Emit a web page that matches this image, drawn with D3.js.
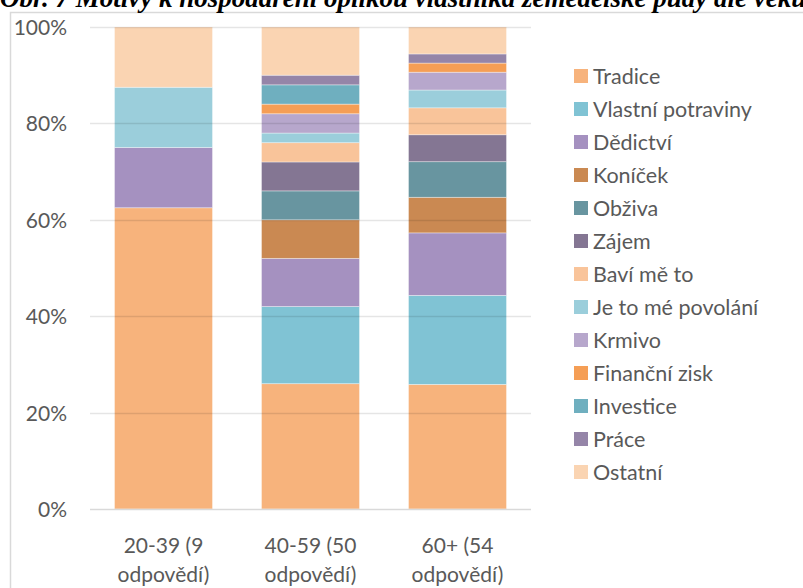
<!DOCTYPE html>
<html><head><meta charset="utf-8">
<script src="https://cdn.jsdelivr.net/npm/d3@7"></script>
<style>
html,body{margin:0;padding:0;background:#fff;overflow:hidden;}
svg{display:block;}
</style></head>
<body>
<svg id="c" width="803" height="588"></svg>
<script>
const titleText = "Obr. 7 Motivy k hospodaření opilkou vlastníka zemědělské půdy dle věku";
const categories = ["20-39 (9 odpovědí)", "40-59 (50 odpovědí)", "60+ (54 odpovědí)"];
const categoryLines = [["20-39 (9", "odpovědí)"], ["40-59 (50", "odpovědí)"], ["60+ (54", "odpovědí)"]];
const seriesNames = ["Tradice","Vlastní potraviny","Dědictví","Koníček","Obživa","Zájem","Baví mě to","Je to mé povolání","Krmivo","Finanční zisk","Investice","Práce","Ostatní"];
const seriesColors = ["#F7B37C","#80C3D4","#A591C0","#CA8952","#6895A0","#847693","#F9C49A","#9BCEDB","#B7A7CC","#F59E55","#6FAFBF","#9585A8","#FAD4B2"];
const tradice      = [62.5, 26, 25.9];
const vlastni      = [0, 16, 18.5];
const dedictvi     = [12.5, 10, 13.0];
const konicek      = [0, 8, 7.4];
const obziva       = [0, 6, 7.4];
const zajem        = [0, 6, 5.6];
const bavi         = [0, 4, 5.6];
const povolani     = [12.5, 2, 3.7];
const krmivo       = [0, 4, 3.7];
const financni     = [0, 2, 1.9];
const investice    = [0, 4, 0];
const prace        = [0, 2, 1.9];
const ostatni      = [12.5, 10, 5.6];
const seriesValues = [tradice, vlastni, dedictvi, konicek, obziva, zajem, bavi, povolani, krmivo, financni, investice, prace, ostatni];
const yTicks = [0, 0.2, 0.4, 0.6, 0.8, 1.0];

const rows = categories.map((c, i) => {
  const r = {cat: c};
  seriesNames.forEach((s, j) => r[s] = seriesValues[j][i]);
  return r;
});

const svg = d3.select("#c");
const FONT = "Lato, 'Open Sans', sans-serif";
const TXT = "#595959";

// chart border
svg.append("rect").attr("x", 10.5).attr("y", 12.5).attr("width", 1000).attr("height", 1000)
  .attr("fill", "none").attr("stroke", "#d9d9d9").attr("stroke-width", 1.5);

// title (clipped at top, as in the reference)
svg.append("text").attr("x", 0).attr("y", 7)
  .attr("font-family", "'Liberation Serif', 'Times New Roman', serif")
  .attr("font-weight", "bold").attr("font-style", "italic")
  .attr("font-size", 27).attr("fill", "#000").text(titleText);

const x = d3.scaleBand().domain(categories).range([90, 531]).paddingInner(1/3).paddingOuter(1/6);
const y = d3.scaleLinear().domain([0, 1]).range([509, 27]);

const stack = d3.stack().keys(seriesNames).offset(d3.stackOffsetExpand);
const stacked = stack(rows);

// bars
const g = svg.append("g");
g.selectAll("g.s").data(stacked).join("g").attr("class", "s")
  .attr("fill", (d, i) => seriesColors[i])
  .selectAll("rect").data(d => d.filter(p => p[1] - p[0] > 0)).join("rect")
  .attr("x", d => x(d.data.cat))
  .attr("width", x.bandwidth())
  .attr("y", d => y(d[1]))
  .attr("height", d => y(d[0]) - y(d[1]))
  .attr("stroke", "rgba(255,255,255,0.45)").attr("stroke-width", 0.8);

// gridlines (faint, visible through bars like the reference)
const grid = svg.append("g");
grid.selectAll("line").data(yTicks.filter(t => t > 0)).join("line")
  .attr("x1", 90).attr("x2", 531)
  .attr("y1", d => Math.round(y(d)) + 0.5).attr("y2", d => Math.round(y(d)) + 0.5)
  .attr("stroke", "#000").attr("stroke-opacity", 0.1).attr("stroke-width", 1.5);
svg.append("line").attr("x1", 90).attr("x2", 531)
  .attr("y1", Math.round(y(0)) + 0.5).attr("y2", Math.round(y(0)) + 0.5)
  .attr("stroke", "#d9d9d9").attr("stroke-width", 1.5);

// y axis labels
const yAxis = d3.axisLeft(y).tickValues(yTicks).tickFormat(d3.format(".0%")).tickSize(0).tickPadding(0);
const ya = svg.append("g").attr("transform", "translate(67,0)").call(yAxis);
ya.select(".domain").remove();
ya.selectAll("text").attr("font-family", FONT).attr("font-size", 21).attr("fill", TXT).attr("dy", "0.36em");

// x axis labels
const xa = svg.append("g");
categories.forEach((c, i) => {
  const t = xa.append("text").attr("text-anchor", "middle")
    .attr("font-family", FONT).attr("font-size", 21).attr("fill", TXT)
    .attr("x", x(c) + x.bandwidth() / 2);
  categoryLines[i].forEach((ln, k) => {
    t.append("tspan").attr("x", x(c) + x.bandwidth() / 2).attr("y", 553 + k * 29).text(ln);
  });
});

// legend
const lg = svg.append("g");
seriesNames.forEach((s, i) => {
  const cy = 76 + i * 33;
  lg.append("rect").attr("x", 574).attr("y", cy - 7).attr("width", 14).attr("height", 14).attr("fill", seriesColors[i]);
  lg.append("text").attr("x", 593).attr("y", cy).attr("dy", "0.36em")
    .attr("font-family", FONT).attr("font-size", 21.5).attr("fill", TXT).text(s);
});
</script>
</body></html>
